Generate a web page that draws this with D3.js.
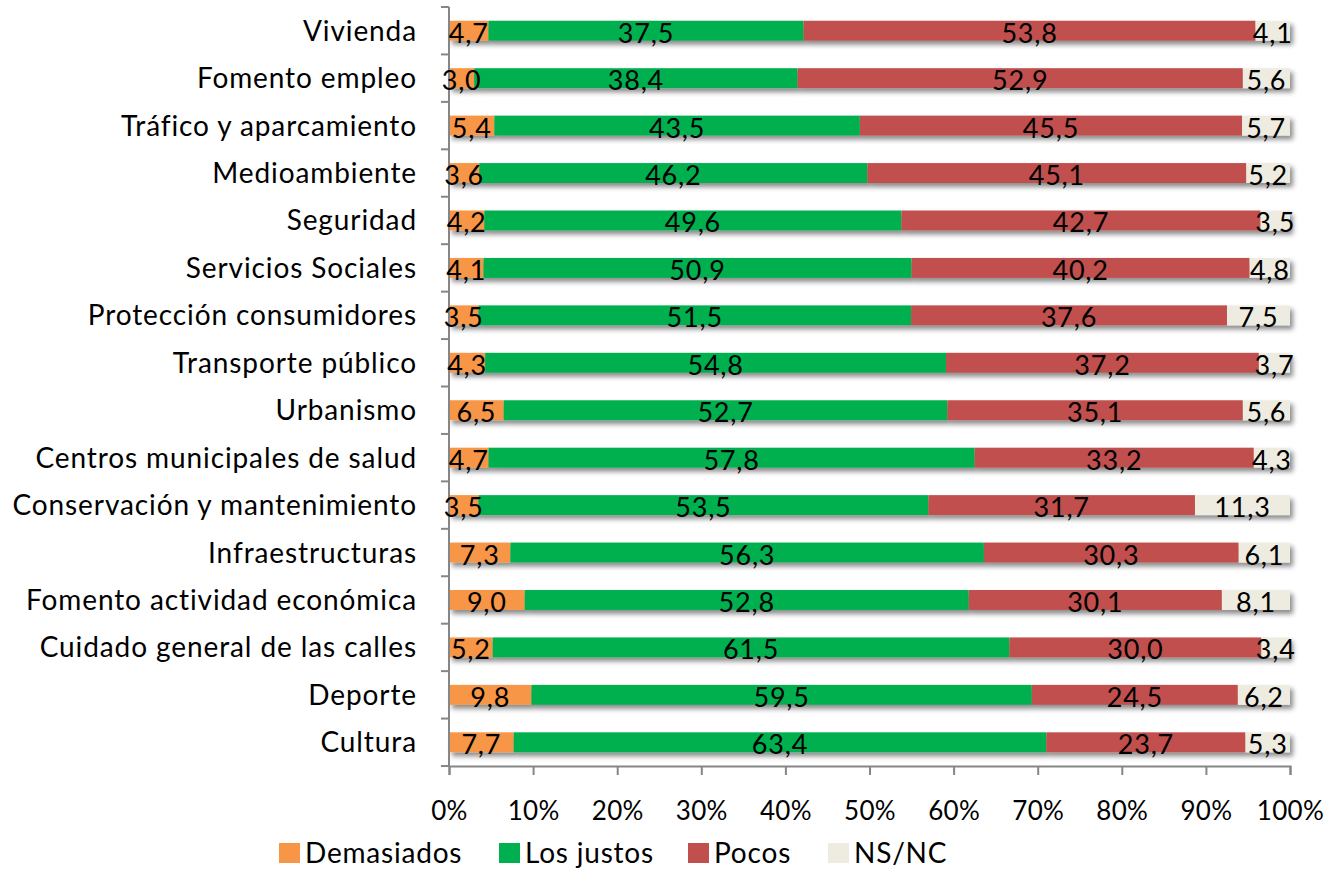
<!DOCTYPE html>
<html><head><meta charset="utf-8">
<script src="https://cdn.jsdelivr.net/npm/d3@7"></script>
<style>
html,body{margin:0;padding:0;background:#fff;}
svg{display:block;font-family:Lato,"Open Sans",sans-serif;}
</style></head>
<body>
<svg id="chart" width="1334" height="869"></svg>
<script>
const categories = ["Vivienda","Fomento empleo","Tráfico y aparcamiento","Medioambiente","Seguridad","Servicios Sociales","Protección consumidores","Transporte público","Urbanismo","Centros municipales de salud","Conservación y mantenimiento","Infraestructuras","Fomento actividad económica","Cuidado general de las calles","Deporte","Cultura"];
const seriesNames = ["Demasiados","Los justos","Pocos","NS/NC"];
const demasiados = [4.7,3.0,5.4,3.6,4.2,4.1,3.5,4.3,6.5,4.7,3.5,7.3,9.0,5.2,9.8,7.7];
const losJustos  = [37.5,38.4,43.5,46.2,49.6,50.9,51.5,54.8,52.7,57.8,53.5,56.3,52.8,61.5,59.5,63.4];
const pocos      = [53.8,52.9,45.5,45.1,42.7,40.2,37.6,37.2,35.1,33.2,31.7,30.3,30.1,30.0,24.5,23.7];
const nsnc       = [4.1,5.6,5.7,5.2,3.5,4.8,7.5,3.7,5.6,4.3,11.3,6.1,8.1,3.4,6.2,5.3];
const xTicks = [0,0.1,0.2,0.3,0.4,0.5,0.6,0.7,0.8,0.9,1.0];
const colors = ["#F79646","#00B050","#C0504D","#EEECE1"];

const svg = d3.select("#chart");
const m = {left:449, right:1290, top:7, bottom:766};
const x = d3.scaleLinear().domain([0,1]).range([m.left,m.right]);
const y = d3.scaleBand().domain(categories).range([m.top,m.bottom]).paddingInner(0.58).paddingOuter(0.29);

const defs = svg.append("defs");
const f = defs.append("filter").attr("id","sh").attr("x","-5%").attr("y","-50%").attr("width","110%").attr("height","220%");
f.append("feDropShadow").attr("dx",3).attr("dy",4).attr("stdDeviation",2.5).attr("flood-color","#000").attr("flood-opacity",0.45);

const rows = categories.map((c,i)=>{
  const vals=[demasiados[i],losJustos[i],pocos[i],nsnc[i]];
  const tot=d3.sum(vals);
  let acc=0;
  return vals.map((v,k)=>{const s=acc/tot; acc+=v; return {cat:c,k,v,x0:s,x1:acc/tot};});
});

// bars with shadow
const g = svg.append("g");
rows.forEach(r=>{
  const rg = g.append("g").attr("filter","url(#sh)");
  rg.selectAll("rect").data(r).join("rect")
    .attr("x",d=>x(d.x0)).attr("width",d=>x(d.x1)-x(d.x0))
    .attr("y",d=>y(d.cat)).attr("height",y.bandwidth())
    .attr("fill",d=>colors[d.k]);
});

// axes
const axisColor="#868686";
const yAxisG = svg.append("g");
yAxisG.append("line").attr("x1",m.left).attr("x2",m.left).attr("y1",m.top).attr("y2",m.bottom).attr("stroke",axisColor).attr("stroke-width",2);
d3.range(categories.length+1).forEach(i=>{
  const yy = m.top + i*(m.bottom-m.top)/categories.length;
  yAxisG.append("line").attr("x1",m.left-8).attr("x2",m.left).attr("y1",yy).attr("y2",yy).attr("stroke",axisColor).attr("stroke-width",2);
});
const xAxis = d3.axisBottom(x).tickValues(xTicks).tickSize(9).tickFormat(d=>Math.round(d*100)+"%");
const xg = svg.append("g").attr("transform",`translate(0,${m.bottom})`).call(xAxis);
xg.select(".domain").attr("stroke",axisColor).attr("stroke-width",2);
xg.selectAll(".tick line").attr("stroke",axisColor).attr("stroke-width",2);
xg.selectAll(".tick text").attr("y",54).attr("dy",0).attr("font-size",26).attr("fill","#000").attr("font-family","Lato").attr("letter-spacing",0.3);

// category labels
svg.append("g").selectAll("text").data(categories).join("text")
  .attr("x",417).attr("y",d=>y(d)+y.bandwidth()/2+10)
  .attr("text-anchor","end")
  .attr("font-size",28).attr("letter-spacing",0.9).attr("fill","#000").text(d=>d);

// value labels
const fmt = v=>v.toFixed(1).replace(".",",");
rows.forEach(r=>{
  svg.append("g").selectAll("text").data(r).join("text")
    .attr("x",d=>(x(d.x0)+x(d.x1))/2).attr("y",d=>y(d.cat)+y.bandwidth()/2+12)
    .attr("text-anchor","middle")
    .attr("font-size",27).attr("letter-spacing",0.8).attr("fill","#000").text(d=>fmt(d.v));
});

// legend
const legX = [279,499,688,828];
const lg = svg.append("g");
seriesNames.forEach((s,i)=>{
  lg.append("rect").attr("x",legX[i]).attr("y",843).attr("width",21).attr("height",20).attr("fill",colors[i]);
  lg.append("text").attr("x",legX[i]+26).attr("y",863)
    .attr("font-size",28).attr("letter-spacing",0.8).attr("fill","#000").text(s);
});
</script>
</body></html>
